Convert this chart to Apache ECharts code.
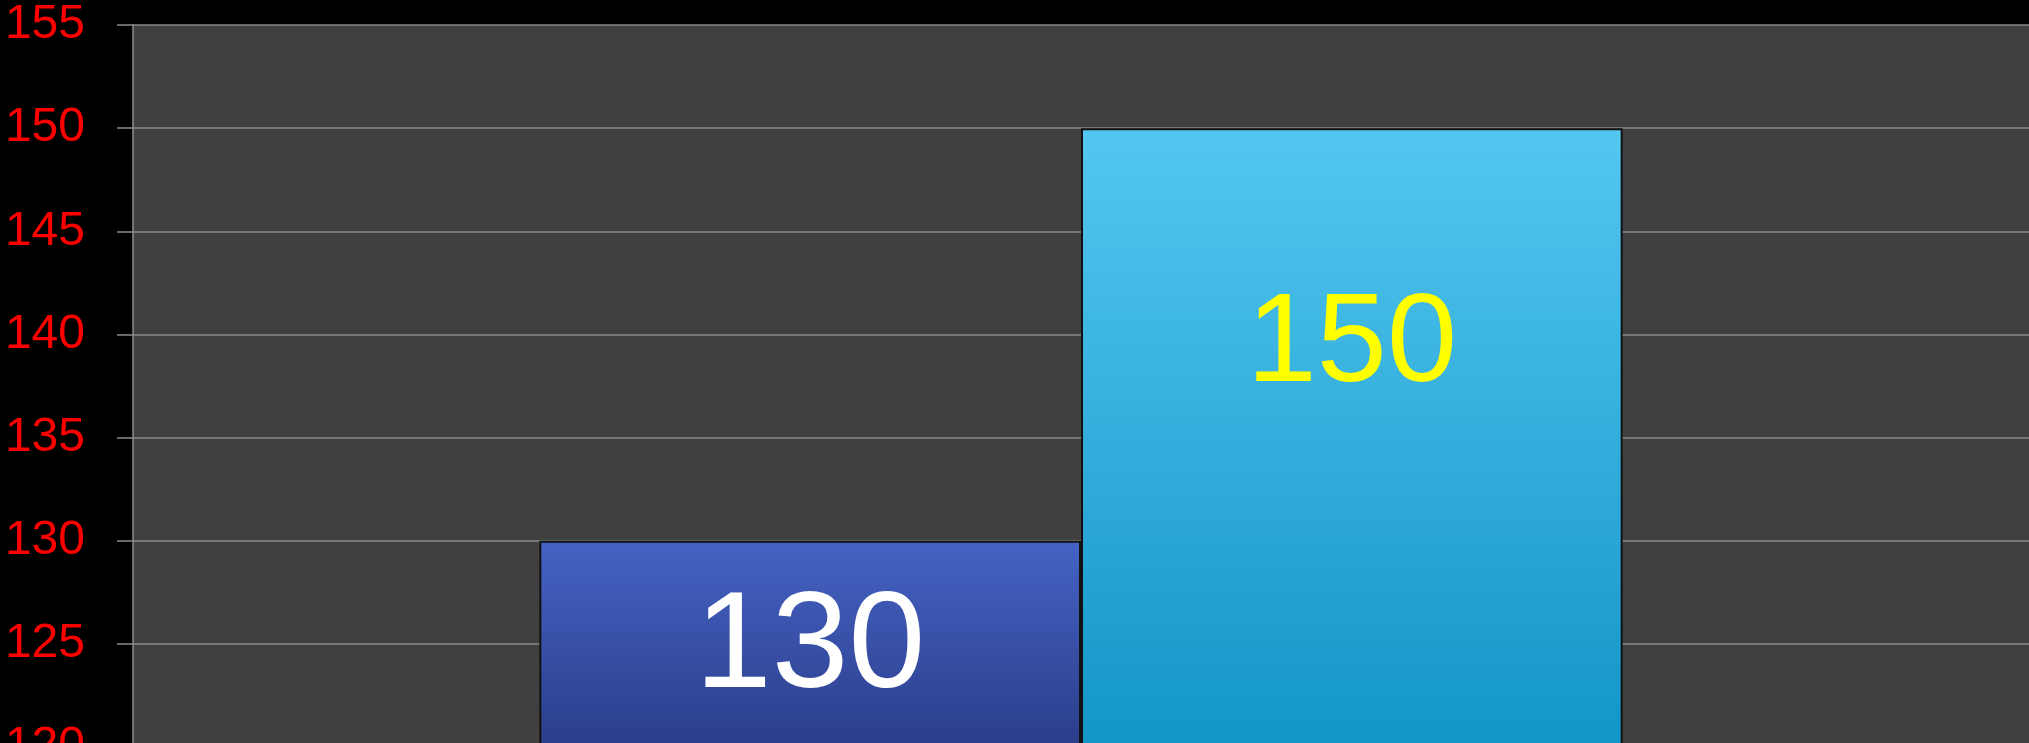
<!DOCTYPE html>
<html>
<head>
<meta charset="utf-8">
<script src="https://cdn.jsdelivr.net/npm/echarts@6/dist/echarts.min.js"></script>
<style>
  html, body { margin: 0; padding: 0; background: #000; }
  #chart { width: 2029px; height: 743px; }
</style>
</head>
<body>
<div id="chart"></div>
<script>
// data
const categories = [''];
const seriesNames = ['A', 'B'];
const seriesValues = [[130], [150]];
const yTicks = { min: 120, max: 155, step: 5 };

const barColors = [
    ['#4563c4', '#2b3d8a'],
    ['#53c7f0', '#1395c8']
];
const labelColors = ['#ffffff', '#ffff00'];
const labelSizes = [138, 126];
const labelOffsets = [108, 218];   // px below bar top

const font = '"Liberation Sans Narrow", "Liberation Sans", sans-serif';

const chartDom = document.getElementById('chart');
const myChart = echarts.init(chartDom);

const series = seriesValues.map((vals, i) => ({
    name: seriesNames[i],
    type: 'bar',
    data: vals,
    barGap: '0%',
    barCategoryGap: '42.86%',
    itemStyle: {
        color: new echarts.graphic.LinearGradient(0, 0, 0, 1, [
            { offset: 0, color: barColors[i][0] },
            { offset: 1, color: barColors[i][1] }
        ]),
        borderColor: '#111',
        borderWidth: 2
    },
    label: {
        show: true,
        position: ['50%', labelOffsets[i]],
        align: 'center',
        verticalAlign: 'middle',
        color: labelColors[i],
        fontSize: labelSizes[i],
        fontFamily: font
    }
}));

const option = {
    backgroundColor: '#000',
    animation: false,
    grid: {
        left: 133,
        right: 0,
        top: 25,
        bottom: -4,
        outerBoundsMode: 'none',
        containLabel: false,
        show: true,
        backgroundColor: '#404040',
        borderWidth: 0
    },
    xAxis: {
        type: 'category',
        data: categories,
        axisLine: { show: false },
        axisTick: { show: false },
        axisLabel: { show: false }
    },
    yAxis: {
        type: 'value',
        min: yTicks.min,
        max: yTicks.max,
        interval: yTicks.step,
        axisLine: { show: true, lineStyle: { color: '#8c8c8c', width: 1.5 } },
        axisTick: { show: true, length: 16, lineStyle: { color: '#8c8c8c', width: 1.5 } },
        splitLine: { show: true, lineStyle: { color: '#8a8a8a', width: 1.5 } },
        axisLabel: {
            color: '#ff0000',
            fontSize: 48,
            fontFamily: font,
            margin: 48
        }
    },
    series: series
};

myChart.setOption(option);
</script>
</body>
</html>
